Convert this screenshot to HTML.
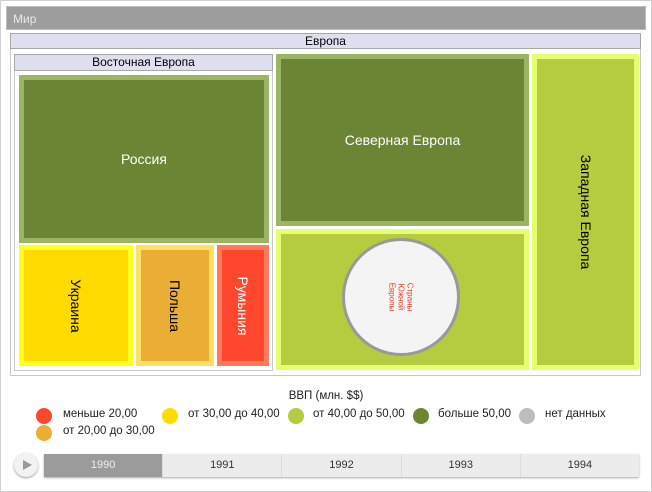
<!DOCTYPE html>
<html><head><meta charset="utf-8"><style>
body{margin:0;width:652px;height:492px;background:#fff;font-family:"Liberation Sans",sans-serif;position:relative;overflow:hidden}
.a{position:absolute;box-sizing:border-box}
.v{position:absolute;left:50%;top:50%;white-space:nowrap;transform:translate(-50%,-50%) rotate(90deg)}
.lg{position:absolute;font-size:11.5px;color:#222}
.dot{position:absolute;width:16px;height:16px;border-radius:50%}
</style></head><body>
<div class="a" style="left:0;top:0;width:652px;height:492px;border:1px solid #d0d0d0"></div>
<div class="a" style="left:6px;top:6px;width:640px;height:24px;background:#9d9d9d;border:1px solid #bcbcbc;color:#e8e8e8;font-size:12px;padding:5px 0 0 6px">Мир</div>
<div class="a" style="left:10px;top:33px;width:631px;height:343px;border:1px solid #c8c8c8"></div>
<div class="a" style="left:10px;top:33px;width:631px;height:16px;background:#dfe0ef;border:1px solid #a8a8a8;font-size:12px;text-align:center;line-height:14px">Европа</div>
<div class="a" style="left:14px;top:54px;width:259px;height:317px;border:1px solid #c8c8c8"></div>
<div class="a" style="left:14px;top:54px;width:259px;height:17px;background:#dfe0ef;border:1px solid #a8a8a8;font-size:12px;text-align:center;line-height:15px">Восточная Европа</div>
<div class="a" style="left:19px;top:75px;width:250px;height:168px;background:#6b8535;border:5px solid #9cb565"><div class="v" style="transform:translate(-50%,-50%);color:#fff;font-size:14px">Россия</div></div>
<div class="a" style="left:19px;top:245px;width:114px;height:121px;background:#ffdb00;border:5px solid #ffff22"><div class="v" style="font-size:14px">Украина</div></div>
<div class="a" style="left:136px;top:245px;width:78px;height:121px;background:#ebae35;border:5px solid #ffe066"><div class="v" style="font-size:14px">Польша</div></div>
<div class="a" style="left:217px;top:245px;width:52px;height:121px;background:#ff472d;border:5px solid #ff7a5a"><div class="v" style="font-size:14px;color:#fff">Румыния</div></div>
<div class="a" style="left:276px;top:54px;width:253px;height:172px;background:#6b8535;border:5px solid #9cb565"><div class="v" style="transform:translate(-50%,-50%);color:#fff;font-size:14px">Северная Европа</div></div>
<div class="a" style="left:276px;top:229px;width:253px;height:141px;background:#b5cb40;border:5px solid #e6ff6e"></div>
<div class="a" style="left:342px;top:238px;width:118px;height:118px;border-radius:50%;background:#f4f4f4;border:3px solid #999"><div class="v" style="font-size:8px;color:#e8402a;line-height:9px;text-align:center;white-space:normal;width:40px">Страны Южной Европы</div></div>
<div class="a" style="left:532px;top:54px;width:107px;height:316px;background:#b5cb40;border:5px solid #e6ff6e"><div class="v" style="font-size:14px">Западная Европа</div></div>
<div class="lg" style="left:0;width:652px;text-align:center;top:390px">ВВП (млн. $$)</div>
<div class="dot" style="left:36px;top:408px;background:#ff472d"></div><div class="lg" style="left:63px;top:408px">меньше 20,00</div>
<div class="dot" style="left:36px;top:425px;background:#ebae35"></div><div class="lg" style="left:63px;top:425px">от 20,00 до 30,00</div>
<div class="dot" style="left:162px;top:408px;background:#ffdb00"></div><div class="lg" style="left:188px;top:408px">от 30,00 до 40,00</div>
<div class="dot" style="left:288px;top:408px;background:#b5cb40"></div><div class="lg" style="left:313px;top:408px">от 40,00 до 50,00</div>
<div class="dot" style="left:413px;top:408px;background:#6b8535"></div><div class="lg" style="left:438px;top:408px">больше 50,00</div>
<div class="dot" style="left:519px;top:408px;background:#bdbdbd"></div><div class="lg" style="left:545px;top:408px">нет данных</div>
<div class="a" style="left:14px;top:453px;width:24px;height:24px;border-radius:50%;background:#f2f2f2;box-shadow:0 1px 2px #999"></div>
<div class="a" style="left:23px;top:460px;width:0;height:0;border-left:9px solid #999;border-top:5px solid transparent;border-bottom:5px solid transparent"></div>
<div class="a" style="left:44px;top:454px;width:595px;height:23px;background:#ececec;box-shadow:0 1px 2px #aaa;display:flex;font-size:11px;color:#333">
<div style="flex:1;background:#9b9b9b;color:#eee;text-align:center;line-height:23px">1990</div>
<div style="flex:1;text-align:center;line-height:23px;border-left:1px solid #ddd">1991</div>
<div style="flex:1;text-align:center;line-height:23px;border-left:1px solid #ddd">1992</div>
<div style="flex:1;text-align:center;line-height:23px;border-left:1px solid #ddd">1993</div>
<div style="flex:1;text-align:center;line-height:23px;border-left:1px solid #ddd">1994</div>
</div>
</body></html>
